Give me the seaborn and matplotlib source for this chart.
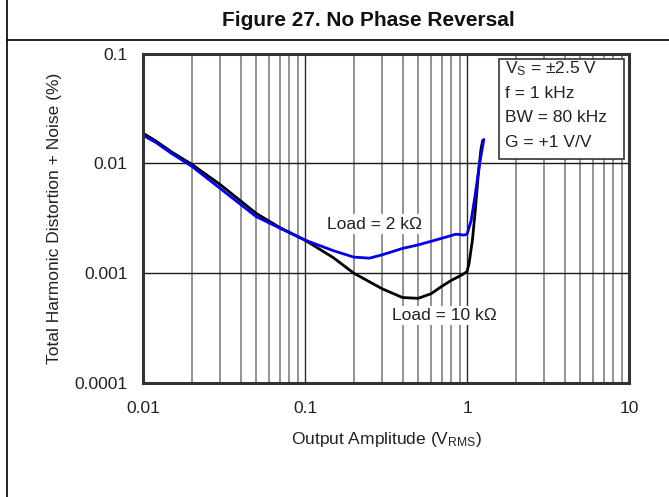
import numpy as np
import pandas as pd
import matplotlib
matplotlib.use("Agg")
import matplotlib.pyplot as plt
import seaborn as sns
from matplotlib.lines import Line2D
from matplotlib.patches import Rectangle
from matplotlib.ticker import FixedLocator, NullFormatter

# ---- data ----
amp_10k = [0.01, 0.012, 0.015, 0.02, 0.03, 0.05, 0.07, 0.1, 0.15, 0.2, 0.3, 0.4,
           0.5, 0.6, 0.7, 0.8, 0.9, 1.0, 1.03, 1.08, 1.13, 1.17, 1.22, 1.25]
thd_10k = [0.0188, 0.0160, 0.0127, 0.0098, 0.0064, 0.0035, 0.0026, 0.0020, 0.00138,
           0.00100, 0.00072, 0.00060, 0.00059, 0.00065, 0.00076, 0.00086, 0.00094,
           0.00103, 0.00123, 0.0020, 0.0040, 0.0075, 0.0135, 0.0162]

amp_2k = [0.01, 0.012, 0.015, 0.02, 0.03, 0.05, 0.07, 0.1, 0.15, 0.2, 0.25, 0.3,
          0.4, 0.5, 0.6, 0.7, 0.8, 0.85, 0.9, 0.95, 1.0, 1.06, 1.12, 1.19, 1.27]
thd_2k = [0.0180, 0.0155, 0.0123, 0.0094, 0.0059, 0.00327, 0.00257, 0.0020, 0.0016,
          0.0014, 0.00137, 0.00147, 0.00168, 0.00181, 0.00195, 0.00208, 0.0022,
          0.00226, 0.00225, 0.00222, 0.00226, 0.0030, 0.0050, 0.0095, 0.0165]

x_ticks = [0.01, 0.1, 1, 10]
x_tick_labels = ["0.01", "0.1", "1", "10"]
y_ticks = [0.0001, 0.001, 0.01, 0.1]
y_tick_labels = ["0.0001", "0.001", "0.01", "0.1"]
conditions = [r"V$_\mathregular{S}$ = ±2.5 V", "f = 1 kHz", "BW = 80 kHz", "G = +1 V/V"]

df10 = pd.DataFrame({"amp": amp_10k, "thd": thd_10k})
df2 = pd.DataFrame({"amp": amp_2k, "thd": thd_2k})

sns.set_style("white")
plt.rcParams["font.family"] = ["Liberation Sans", "DejaVu Sans"]
plt.rcParams["mathtext.default"] = "regular"

W, H = 669, 497
fig = plt.figure(figsize=(W / 100, H / 100), dpi=100)
ax = fig.add_axes([143 / W, 1 - 383 / H, (629 - 143) / W, (383 - 53.5) / H])

ax.set_xscale("log")
ax.set_yscale("log")
ax.set_xlim(0.01, 10)
ax.set_ylim(0.0001, 0.1)

# grid
minor_x = [m * 10.0 ** e for e in (-2, -1, 0) for m in range(2, 10)]
for xv in minor_x:
    ax.axvline(xv, color="#8a8a8a", lw=1.3, zorder=1)
for xv in x_ticks:
    ax.axvline(xv, color="#2a2a2a", lw=1.0, zorder=1)
for yv in y_ticks:
    ax.axhline(yv, color="#1a1a1a", lw=1.0, zorder=1)

sns.lineplot(data=df10, x="amp", y="thd", ax=ax, color="black", lw=2.0,
             sort=False, zorder=3)
sns.lineplot(data=df2, x="amp", y="thd", ax=ax, color="#0000ee", lw=2.0,
             sort=False, zorder=4)

ax.xaxis.set_major_locator(FixedLocator(x_ticks))
ax.set_xticklabels(x_tick_labels)
ax.yaxis.set_major_locator(FixedLocator(y_ticks))
ax.set_yticklabels(y_tick_labels)
ax.xaxis.set_minor_formatter(NullFormatter())
ax.yaxis.set_minor_formatter(NullFormatter())
ax.tick_params(axis="both", which="both", length=0, labelsize=12.5, colors="#222222")
ax.tick_params(axis="x", pad=13)
ax.tick_params(axis="y", pad=11)

for s in ax.spines.values():
    s.set_color("#333333")
    s.set_linewidth(2.2)
    s.set_zorder(5)

ax.set_xlabel(r"Output Amplitude (V$_\mathregular{RMS}$)", fontsize=12.5,
              color="#222222", labelpad=10)
ax.set_ylabel("Total Harmonic Distortion + Noise (%)", fontsize=12.5,
              color="#222222", labelpad=9)

# curve labels
bb = dict(facecolor="white", edgecolor="none", pad=1.5)
ax.text(0.27, 0.0028, "Load = 2 kΩ", fontsize=12.5, color="#222222",
        ha="center", va="center", bbox=bb, zorder=6)
ax.text(0.73, 0.00041, "Load = 10 kΩ", fontsize=12.5, color="#222222",
        ha="center", va="center", bbox=bb, zorder=6)

# condition box
ax.add_patch(Rectangle(((499 - 143) / 486, (383 - 159) / 329.5),
                       (624 - 499) / 486, (159 - 59) / 329.5,
                       transform=ax.transAxes, facecolor="white",
                       edgecolor="#333333", lw=1.2, zorder=6))
for i, t in enumerate(conditions):
    ax.text((505 - 143) / 486, (383 - (69 + 24.5 * i)) / 329.5, t,
            transform=ax.transAxes, fontsize=12.5, color="#222222",
            ha="left", va="center", zorder=7)

# figure frame and title
fig.add_artist(Line2D([7 / W, 7 / W], [0, 1], color="black", lw=1.2))
fig.add_artist(Line2D([7 / W, 1], [1 - 39.5 / H, 1 - 39.5 / H], color="black", lw=1.2))
fig.text(368 / W, 1 - 20 / H, "Figure 27. No Phase Reversal", fontsize=15,
         fontweight="bold", ha="center", va="center", color="#111111")

fig.savefig("out.png", dpi=100)
